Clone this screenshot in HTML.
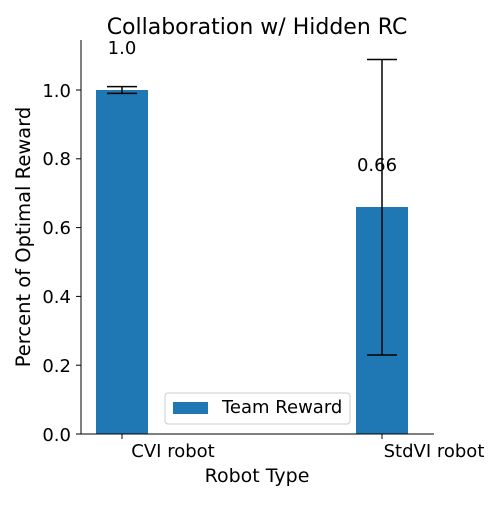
<!DOCTYPE html>
<html><head><meta charset="utf-8"><style>html,body{margin:0;padding:0;background:#fff}</style></head>
<body>
<svg width="500" height="500" xmlns="http://www.w3.org/2000/svg" font-family="'DejaVu Sans', 'Liberation Sans', sans-serif">
<rect width="500" height="500" fill="#fff"/>
<rect x="96" y="90" width="52" height="344" fill="#1f77b4"/>
<rect x="356" y="207" width="52" height="227" fill="#1f77b4"/>
<g stroke="#000" stroke-width="1.5">
<line x1="122" y1="86.6" x2="122" y2="93.4"/>
<line x1="107" y1="86.6" x2="137" y2="86.6"/>
<line x1="107" y1="93.4" x2="137" y2="93.4"/>
<line x1="382" y1="59.5" x2="382" y2="355"/>
<line x1="367" y1="59.5" x2="397" y2="59.5"/>
<line x1="367" y1="355" x2="397" y2="355"/>
</g>
<g stroke="#000" stroke-width="1">
<line x1="81" y1="40" x2="81" y2="434.5"/>
<line x1="80.5" y1="434" x2="434" y2="434"/>
<line x1="76" y1="434" x2="81" y2="434"/>
<line x1="76" y1="365.2" x2="81" y2="365.2"/>
<line x1="76" y1="296.4" x2="81" y2="296.4"/>
<line x1="76" y1="227.6" x2="81" y2="227.6"/>
<line x1="76" y1="158.8" x2="81" y2="158.8"/>
<line x1="76" y1="90" x2="81" y2="90"/>
<line x1="122" y1="434" x2="122" y2="439"/>
<line x1="382" y1="434" x2="382" y2="439"/>
</g>
<g font-size="18" fill="#000" text-anchor="end">
<text x="71" y="441">0.0</text>
<text x="71" y="372">0.2</text>
<text x="71" y="303">0.4</text>
<text x="71" y="234">0.6</text>
<text x="71" y="165">0.8</text>
<text x="71" y="97">1.0</text>
</g>
<g font-size="18" fill="#000" text-anchor="middle">
<text x="173" y="457">CVI robot</text>
<text x="434" y="457">StdVI robot</text>
<text x="257" y="482" font-size="19">Robot Type</text>
<text x="257" y="34" font-size="22">Collaboration w/ Hidden RC</text>
<text x="122" y="54" font-size="18">1.0</text>
<text x="377" y="171" font-size="18">0.66</text>
<text transform="translate(30,237) rotate(-90)" font-size="19.5">Percent of Optimal Reward</text>
</g>
<rect x="165" y="393" width="185" height="31" rx="3" fill="#fff" stroke="#ccc" stroke-width="1"/>
<rect x="173" y="402" width="35" height="12" fill="#1f77b4"/>
<text x="222" y="413" font-size="18" fill="#000">Team Reward</text>
</svg>
</body></html>
